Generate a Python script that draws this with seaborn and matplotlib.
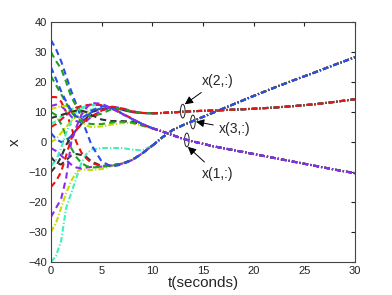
import matplotlib
matplotlib.use("Agg")
import matplotlib.pyplot as plt
from matplotlib.patches import Ellipse
import seaborn as sns

# time samples (seconds)
t_early = [0, 0.5, 1, 1.5, 2, 2.5, 3, 3.5, 4, 5, 6, 7, 8, 9, 10]
t_late = [10, 11, 12, 13, 14, 16, 18, 20, 22, 24, 26, 28, 30]

# consensus values once the agents have met
x1_late = [4.6, 3.5, 2.3, 1.1, 0.2, -1.4, -2.7, -4.0, -5.3, -6.6, -7.9, -9.2, -10.4]
x2_late = [9.6, 9.7, 9.9, 10.1, 10.3, 10.5, 10.8, 11.1, 11.5, 12.0, 12.6, 13.4, 14.3]
x3_late = [-1.2, 1.6, 4.0, 5.6, 7.0, 9.8, 12.6, 15.4, 18.1, 20.7, 23.2, 25.8, 28.3]

agent_colors = {
    "blue": "#2a4cf0", "green": "#1fa01f", "red": "#f01010", "black": "#333333",
    "yellow": "#c4dc00", "purple": "#8a2cf0", "cyan": "#40f0b8",
}

# early part of each state, per agent
x1_early = {
    "blue":   [25, 21, 17, 13.5, 10.5, 8.5, 8, 9, 10.5, 12, 11.3, 9.5, 7.7, 6, 4.6],
    "green":  [22, 19, 16, 13, 10, 8, 7, 6.3, 6, 6, 6.5, 6.8, 6.5, 5.5, 4.6],
    "red":    [5, 6, 7.5, 9, 10.5, 11.5, 12, 12.3, 12.5, 12.3, 11.3, 9.6, 7.8, 6, 4.6],
    "black":  [8, 8.5, 9, 9.5, 10, 10.5, 10.5, 10, 9, 7.5, 7, 7, 6.8, 5.8, 4.6],
    "yellow": [11, 11.5, 12, 12, 11, 9, 7, 5.5, 5, 5.2, 5.8, 6.3, 6.3, 5.5, 4.6],
    "purple": [-25, -22, -19, -12, 0, 5, 9, 11.5, 13, 12.8, 11.2, 9.4, 7.7, 6, 4.6],
    "cyan":   [-8, -6, -2, 3, 7, 10, 11.5, 12, 12.3, 12.3, 11.2, 9.4, 7.7, 6, 4.6],
}
x2_early = {
    "blue":   [3, 1, 0, 0.5, 2, 4, 6.5, 8.5, 10, 11.3, 11.6, 10.8, 10, 9.7, 9.6],
    "green":  [30, 27, 24.5, 20, 15, 12, 10, 9, 8.5, 9.5, 11, 11.2, 10.2, 9.7, 9.6],
    "red":    [-15, -13, -10, -4.5, 1, 4, 6, 7.5, 8.5, 10.5, 11.8, 11.2, 10.2, 9.7, 9.6],
    "black":  [-10, -8, -5, -1, 2, 4, 6, 8, 10, 11, 11, 10.8, 10, 9.7, 9.6],
    "yellow": [0, 1, 3, 5, 7, 8.5, 9.5, 10, 10.5, 11.3, 11.5, 10.8, 10, 9.7, 9.6],
    "purple": [12, 12.5, 12, 10.5, 8.5, 7, 6.5, 7, 8.5, 10.5, 11.8, 11.3, 10.3, 9.7, 9.6],
    "cyan":   [6, 7, 8.5, 10, 11, 11.5, 11.5, 11, 10.8, 11, 11.5, 10.8, 10, 9.7, 9.6],
}
x3_early = {
    "blue":   [34, 31, 27, 22, 17, 12.5, 8, 3.5, -1, -6.5, -8.2, -7.5, -6, -3.8, -1.2],
    "green":  [10, 9, 6, 2, -2, -5, -7, -8, -8.5, -8.3, -7.8, -7.2, -6, -3.8, -1.2],
    "red":    [15, 15, 13.5, 10, 5, 0, -3.5, -5.5, -7, -8, -7.8, -7.2, -6, -3.8, -1.2],
    "black":  [-5, -7, -7.5, -6, -4.5, -4, -4.3, -5, -6.5, -8, -7.8, -7.2, -6, -3.8, -1.2],
    "yellow": [-30, -27, -22, -17, -13, -10, -9, -9.3, -9.3, -9, -8, -7.2, -6, -3.8, -1.2],
    "purple": [-2, -3, -4.5, -6, -7.5, -8.5, -8.8, -8.5, -8.3, -8.2, -7.8, -7.2, -6, -3.8, -1.2],
    "cyan":   [-40, -38, -33, -22, -17, -12, -7, -4, -2.5, -2, -2, -2, -2.5, -2.8, -1.2],
}

sns.set_style("white")
plt.rcParams["font.family"] = ["Liberation Sans", "DejaVu Sans"]

fig = plt.figure(figsize=(3.92, 2.95), dpi=100)
ax = fig.add_axes([0.130, 0.112, 0.776, 0.813])

dashdot = (2.7, 1.0, 0.6, 1.0)
dashed = (3.0, 2.0)
early_style = {"blue": dashed, "green": dashed, "red": dashed, "black": dashed,
               "yellow": dashdot, "purple": dashed, "cyan": dashdot}

groups = [
    (x3_early, x3_late, ["cyan", "yellow", "black", "purple", "red", "green", "blue"]),
    (x2_early, x2_late, ["cyan", "yellow", "black", "purple", "blue", "green", "red"]),
    (x1_early, x1_late, ["cyan", "yellow", "black", "green", "red", "blue", "purple"]),
]
for early, late, order in groups:
    for name in order:
        sns.lineplot(x=t_early, y=early[name], ax=ax, color=agent_colors[name],
                     lw=1.5, estimator=None, sort=False)
        ax.lines[-1].set_dashes(early_style[name])
for early, late, order in groups:
    for name in order:
        sns.lineplot(x=t_late, y=late, ax=ax, color=agent_colors[name],
                     lw=1.5, estimator=None, sort=False)
        ax.lines[-1].set_dashes(dashdot)

ax.set_xlim(0, 30)
ax.set_ylim(-40, 40)
ax.set_xticks(range(0, 31, 5))
ax.set_yticks(range(-40, 41, 10))
ax.tick_params(direction="in", length=3, labelsize=8, colors="#222222",
               top=True, right=True, pad=3)
for s in ax.spines.values():
    s.set_color("#444444")
    s.set_linewidth(0.8)
ax.set_xlabel("t(seconds)", fontsize=11)
ax.set_ylabel("x", fontsize=11)
ax.xaxis.set_label_coords(0.5, -0.058)
ax.yaxis.set_label_coords(-0.095, 0.5)

# ellipse markers and arrows for each consensus state
marks = [
    ("x(2,:)", (13.0, 10.3), (14.9, 20.5), (13.2, 12.6)),
    ("x(3,:)", (14.0, 6.7), (16.6, 4.3), (14.3, 6.8)),
    ("x(1,:)", (13.4, 0.7), (14.9, -10.7), (13.5, -1.6)),
]
for label, center, text_pos, tip in marks:
    ax.add_patch(Ellipse(center, 0.45, 4.6, fill=False, ec="#222222", lw=0.7))
    ax.annotate(label, xy=tip, xytext=text_pos, fontsize=10, va="center", ha="left",
                arrowprops=dict(arrowstyle="-|>", color="black", lw=0.7,
                                mutation_scale=12, shrinkA=2, shrinkB=0))

fig.savefig("out.png", dpi=100)
